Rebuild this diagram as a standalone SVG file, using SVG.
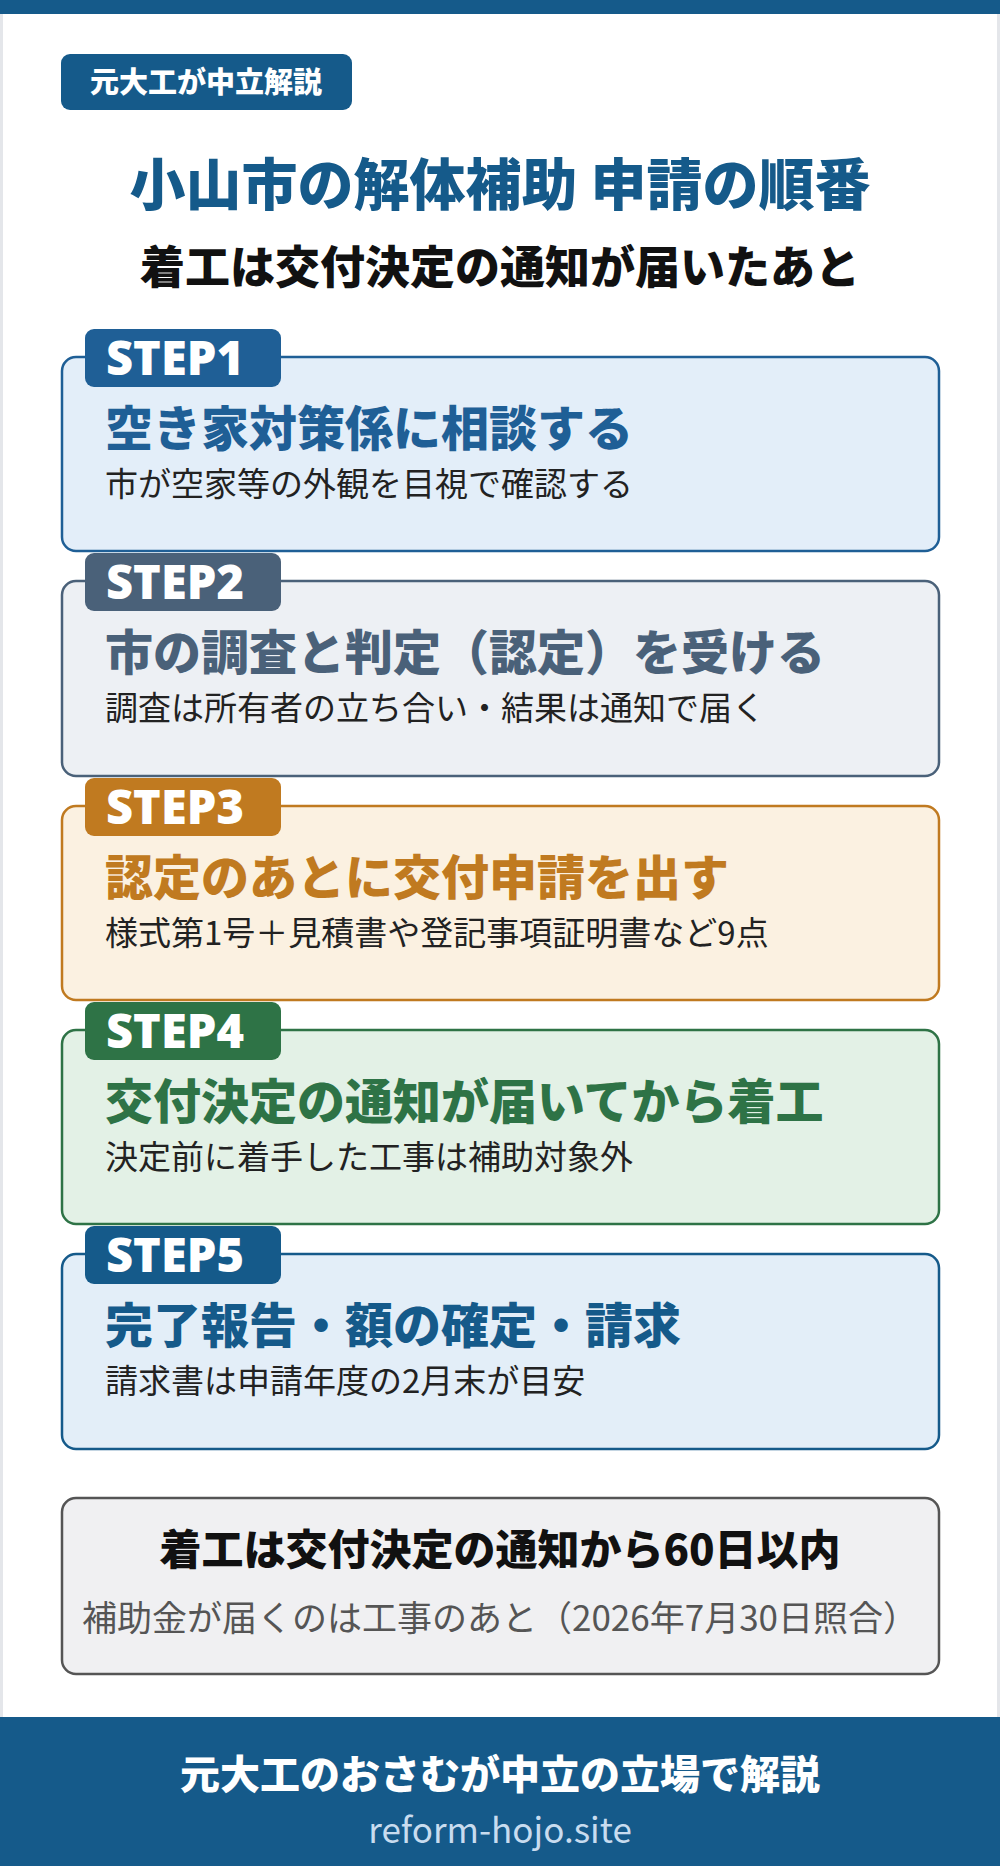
<svg xmlns="http://www.w3.org/2000/svg" width="1000" height="1866" viewBox="0 0 1000 1866">
<style>
text{font-family:"Noto Sans CJK JP","Noto Sans",sans-serif}
.b{font-weight:900}
.box{stroke-width:2.5}
.tab{font-size:47px;font-weight:900;fill:#fff;font-family:"Noto Sans","Noto Sans CJK JP",sans-serif}
.h{font-size:48px;font-weight:900}
.s{font-size:33px;fill:#222}
</style>
<rect x="0" y="0" width="1000" height="1866" fill="#fff"/>
<rect x="0" y="0" width="1000" height="1866" fill="none" stroke="#e4e6ea" stroke-width="6"/>
<rect x="0" y="0" width="1000" height="14" fill="#155a8a"/>
<g id="badge"><rect x="61" y="54" width="291" height="56" rx="9" fill="#155a8a"/><text x="206" y="93" text-anchor="middle" class="b" font-size="29" fill="#fff">元大工が中立解説</text></g>
<g id="title"><text x="500" y="205" text-anchor="middle" class="b" font-size="56" fill="#155a8a">小山市の解体補助 申請の順番</text>
<text x="500" y="284" text-anchor="middle" class="b" font-size="45" fill="#111">着工は交付決定の通知が届いたあと</text></g>
<g id="step1"><rect class="box" x="62" y="357" width="877" height="194" rx="14" fill="#e3eef9" stroke="#1f5f96"/><rect x="85" y="329" width="196" height="58" rx="9" fill="#1f5f96"/><text class="tab" x="106" y="375">STEP1</text><text class="h" x="105" y="446" fill="#1f5f96">空き家対策係に相談する</text><text class="s" x="105" y="496">市が空家等の外観を目視で確認する</text></g>
<g id="step2"><rect class="box" x="62" y="581" width="877" height="195" rx="14" fill="#edf0f4" stroke="#4a6179"/><rect x="85" y="553" width="196" height="58" rx="9" fill="#4a6179"/><text class="tab" x="106" y="599">STEP2</text><text class="h" x="105" y="670" fill="#4a6179">市の調査と判定（認定）を受ける</text><text class="s" x="105" y="720">調査は所有者の立ち合い・結果は通知で届く</text></g>
<g id="step3"><rect class="box" x="62" y="806" width="877" height="194" rx="14" fill="#fbf1e1" stroke="#c07a20"/><rect x="85" y="778" width="196" height="58" rx="9" fill="#c07a20"/><text class="tab" x="106" y="824">STEP3</text><text class="h" x="105" y="895" fill="#c07a20">認定のあとに交付申請を出す</text><text class="s" x="105" y="945">様式第1号＋見積書や登記事項証明書など9点</text></g>
<g id="step4"><rect class="box" x="62" y="1030" width="877" height="194" rx="14" fill="#e3f1e6" stroke="#2e7346"/><rect x="85" y="1002" width="196" height="58" rx="9" fill="#2e7346"/><text class="tab" x="106" y="1048">STEP4</text><text class="h" x="105" y="1119" fill="#2e7346">交付決定の通知が届いてから着工</text><text class="s" x="105" y="1169">決定前に着手した工事は補助対象外</text></g>
<g id="step5"><rect class="box" x="62" y="1254" width="877" height="195" rx="14" fill="#e3eef8" stroke="#155a8a"/><rect x="85" y="1226" width="196" height="58" rx="9" fill="#155a8a"/><text class="tab" x="106" y="1272">STEP5</text><text class="h" x="105" y="1343" fill="#155a8a">完了報告・額の確定・請求</text><text class="s" x="105" y="1393">請求書は申請年度の2月末が目安</text></g>
<g id="note"><rect class="box" x="62" y="1498" width="877" height="176" rx="14" fill="#f0f0f2" stroke="#555"/><text x="500" y="1565" text-anchor="middle" class="b" font-size="42" fill="#111">着工は交付決定の通知から60日以内</text><text x="500" y="1631" text-anchor="middle" font-size="35" fill="#555">補助金が届くのは工事のあと（2026年7月30日照合）</text></g>
<g id="footer"><rect x="0" y="1717" width="1000" height="149" fill="#155a8a"/><text x="500" y="1789" text-anchor="middle" class="b" font-size="40" fill="#fff">元大工のおさむが中立の立場で解説</text><text x="500" y="1843" text-anchor="middle" font-size="35" fill="#c8dcef">reform-hojo.site</text></g>
<g id="connectors"></g>
</svg>
